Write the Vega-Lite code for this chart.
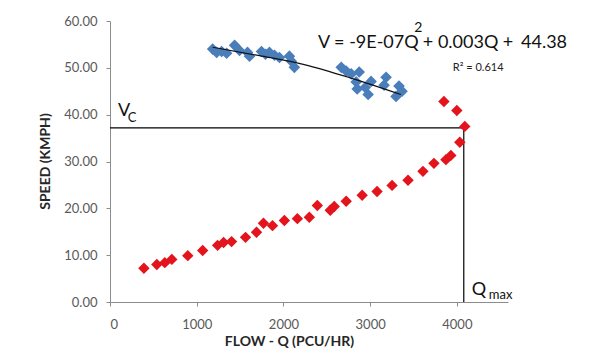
{
  "$schema": "https://vega.github.io/schema/vega-lite/v6.json",
  "width": 398,
  "height": 281,
  "autosize": {"type": "none"},
  "padding": {"left": 110, "top": 21, "right": 82, "bottom": 58},
  "background": "white",
  "config": {
    "view": {"stroke": null},
    "font": "Lato",
    "axis": {"grid": false, "domainColor": "#8c8c8c", "tickColor": "#8c8c8c", "labelColor": "#595959", "labelFont": "Lato", "labelFontSize": 13, "titleFont": "Lato", "titleFontSize": 14, "titleFontWeight": "bold", "titleColor": "#262626", "tickSize": 4}
  },
  "datasets": {
    "blue": [
      {"flow": 1184, "speed": 54.0}, {"flow": 1230, "speed": 53.3}, {"flow": 1287, "speed": 53.5}, {"flow": 1345, "speed": 53.1},
      {"flow": 1437, "speed": 54.8}, {"flow": 1494, "speed": 53.7}, {"flow": 1586, "speed": 53.3}, {"flow": 1609, "speed": 52.5},
      {"flow": 1747, "speed": 53.5}, {"flow": 1793, "speed": 52.9}, {"flow": 1839, "speed": 53.3}, {"flow": 1897, "speed": 52.7},
      {"flow": 1954, "speed": 52.2}, {"flow": 2069, "speed": 52.5}, {"flow": 2092, "speed": 51.4}, {"flow": 2126, "speed": 50.1},
      {"flow": 2667, "speed": 50.1}, {"flow": 2724, "speed": 49.3}, {"flow": 2782, "speed": 48.7}, {"flow": 2874, "speed": 49.1},
      {"flow": 2839, "speed": 47.0}, {"flow": 2851, "speed": 45.5}, {"flow": 2943, "speed": 45.8}, {"flow": 3011, "speed": 47.1},
      {"flow": 2977, "speed": 44.3}, {"flow": 3184, "speed": 48.0}, {"flow": 3161, "speed": 46.3}, {"flow": 3333, "speed": 46.1},
      {"flow": 3368, "speed": 45.0}, {"flow": 3299, "speed": 43.9}
    ],
    "red": [
      {"flow": 391, "speed": 7.2}, {"flow": 540, "speed": 8.0}, {"flow": 632, "speed": 8.4}, {"flow": 713, "speed": 9.1},
      {"flow": 897, "speed": 9.9}, {"flow": 1069, "speed": 11.0}, {"flow": 1241, "speed": 12.1}, {"flow": 1310, "speed": 12.7},
      {"flow": 1402, "speed": 12.9}, {"flow": 1563, "speed": 13.8}, {"flow": 1690, "speed": 14.9}, {"flow": 1770, "speed": 16.8},
      {"flow": 1874, "speed": 16.3}, {"flow": 2011, "speed": 17.4}, {"flow": 2161, "speed": 17.8}, {"flow": 2299, "speed": 18.1},
      {"flow": 2391, "speed": 20.6}, {"flow": 2540, "speed": 19.6}, {"flow": 2586, "speed": 20.4}, {"flow": 2724, "speed": 21.5},
      {"flow": 2908, "speed": 22.8}, {"flow": 3080, "speed": 23.6}, {"flow": 3253, "speed": 24.9}, {"flow": 3437, "speed": 26.0},
      {"flow": 3609, "speed": 27.9}, {"flow": 3736, "speed": 29.6}, {"flow": 3874, "speed": 30.4}, {"flow": 3931, "speed": 31.3},
      {"flow": 4034, "speed": 34.1}, {"flow": 4092, "speed": 37.5}, {"flow": 4000, "speed": 40.9}, {"flow": 3851, "speed": 42.8}
    ],
    "trend": [
      {"flow": 1184, "speed": 54.4}, {"flow": 1724, "speed": 52.6}, {"flow": 2241, "speed": 50.7}, {"flow": 2816, "speed": 47.6}, {"flow": 3356, "speed": 44.3}
    ],
    "hrule": [{"x1": 0, "x2": 4080, "y": 37.2}],
    "vrule": [{"x": 4080, "y1": 0, "y2": 37.2}],
    "labels": [
      {"flow": 92, "speed": 39.8, "text": "V", "size": "big"},
      {"flow": 205, "speed": 38.4, "text": "C", "size": "small"},
      {"flow": 4173, "speed": 1.4, "text": "Q", "size": "big"},
      {"flow": 4369, "speed": 0.6, "text": "max", "size": "small"}
    ],
    "equation": [
      {"flow": 2398, "speed": 54.3, "text": "V = -9E-07Q"},
      {"flow": 3608, "speed": 54.3, "text": "+ 0.003Q"},
      {"flow": 4530, "speed": 54.3, "text": "+"},
      {"flow": 4740, "speed": 54.3, "text": "44.38"}
    ],
    "sup": [
      {"flow": 3510, "speed": 57.6, "text": "2"}
    ],
    "r2": [
      {"flow": 3954, "speed": 49.3, "text": "R² = 0.614"}
    ]
  },
  "encoding": {
    "x": {"field": "flow", "type": "quantitative"},
    "y": {"field": "speed", "type": "quantitative"}
  },
  "layer": [
    {
      "data": {"name": "hrule"},
      "mark": {"type": "rule", "color": "#000000", "strokeWidth": 1.2},
      "encoding": {
        "x": {"field": "x1", "type": "quantitative", "scale": {"domain": [0, 4590], "nice": false}, "axis": {"values": [0, 1000, 2000, 3000, 4000], "format": "d", "title": "FLOW - Q (PCU/HR)", "labelPadding": 12, "titleX": 179, "titleY": 39, "titleBaseline": "middle"}},
        "x2": {"field": "x2"},
        "y": {"field": "y", "type": "quantitative", "scale": {"domain": [0, 60], "nice": false}, "axis": {"values": [0, 10, 20, 30, 40, 50, 60], "format": ".2f", "title": "SPEED (KMPH)", "labelPadding": 9, "titleX": -65, "titleY": 140, "titleBaseline": "middle", "titleAngle": -90}}
      }
    },
    {
      "data": {"name": "vrule"},
      "mark": {"type": "rule", "color": "#000000", "strokeWidth": 1.2},
      "encoding": {
        "x": {"field": "x", "type": "quantitative"},
        "y": {"field": "y1", "type": "quantitative"},
        "y2": {"field": "y2"}
      }
    },
    {
      "data": {"name": "red"},
      "mark": {"type": "point", "shape": "diamond", "filled": true, "size": 130, "color": "#e3141c", "opacity": 1}
    },
    {
      "data": {"name": "blue"},
      "mark": {"type": "point", "shape": "diamond", "filled": true, "size": 135, "color": "#4a7ebb", "opacity": 1}
    },
    {
      "data": {"name": "trend"},
      "mark": {"type": "line", "color": "#111111", "strokeWidth": 1.2, "interpolate": "monotone"},
      "encoding": {}
    },
    {
      "data": {"name": "labels"},
      "mark": {"type": "text", "align": "left", "baseline": "alphabetic", "color": "#111111", "font": "Lato"},
      "encoding": {
        "text": {"field": "text"},
        "size": {"field": "size", "type": "nominal", "scale": {"domain": ["big", "small"], "range": [18, 13]}, "legend": null}
      }
    },
    {
      "data": {"name": "equation"},
      "mark": {"type": "text", "align": "left", "baseline": "alphabetic", "color": "#111111", "font": "Lato", "fontSize": 18},
      "encoding": {"text": {"field": "text"}}
    },
    {
      "data": {"name": "sup"},
      "mark": {"type": "text", "align": "left", "baseline": "alphabetic", "color": "#111111", "font": "Lato", "fontSize": 14},
      "encoding": {"text": {"field": "text"}}
    },
    {
      "data": {"name": "r2"},
      "mark": {"type": "text", "align": "left", "baseline": "alphabetic", "color": "#222222", "font": "Lato", "fontSize": 11},
      "encoding": {"text": {"field": "text"}}
    }
  ]
}
